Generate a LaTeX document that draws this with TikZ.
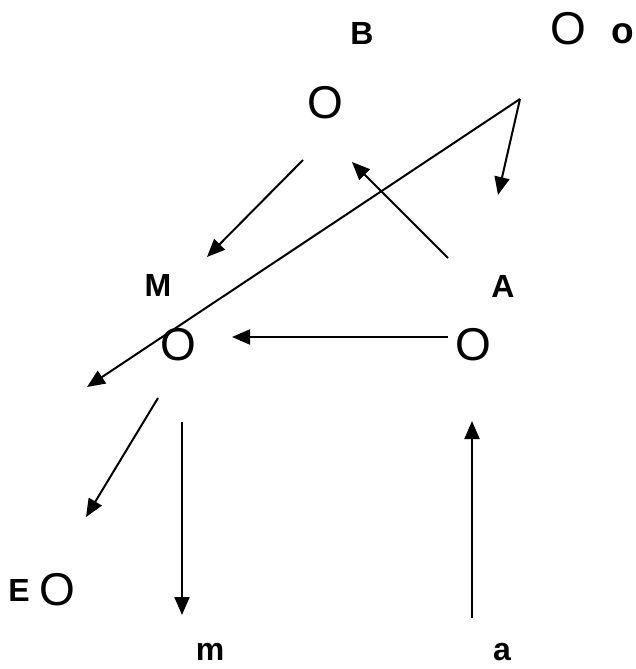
\documentclass[tikz,border=0pt]{standalone}
\usepackage{fontspec}
\setmainfont{Liberation Sans}
\usetikzlibrary{arrows.meta}
\begin{document}
\begin{tikzpicture}[x=1pt,y=-1pt,
  lbl/.style={inner sep=0pt,font=\fontsize{32}{32}\selectfont\bfseries},
  big/.style={inner sep=0pt,font=\fontsize{46}{46}\selectfont},
  arr/.style={line width=2pt,-{Triangle[length=18pt,width=15pt]}}]
\useasboundingbox[fill=white] (0,0) rectangle (635,669);
% texts
\node[lbl] (B) at (362,33) {B};
\node[big] (O1) at (568,29) {O};
\node[inner sep=0pt,font=\fontsize{37}{37}\selectfont\bfseries] (o1) at (623,34) {o};
\node[big] (O2) at (325,103) {O};
\node[lbl] (M) at (158,285) {M};
\node[lbl] (A) at (503,286) {A};
\node[big] (O3) at (178,345) {O};
\node[big] (O4) at (473,345) {O};
\node[lbl] (E) at (19,590) {E};
\node[big] (O5) at (57,590) {O};
\node[lbl] (m) at (210,652) {m};
\node[lbl] (a) at (502,652) {a};
% connector ends
\coordinate (v) at (520,99);
\coordinate (t1) at (87,387);
\coordinate (t2) at (498,195);
\coordinate (s3) at (303,160);
\coordinate (t3) at (207,257);
\coordinate (s4) at (448,258);
\coordinate (t4) at (352,162);
\coordinate (s5) at (448,337);
\coordinate (t5) at (232,337);
\coordinate (s6) at (158,398);
\coordinate (t6) at (86,517);
\coordinate (s7) at (182,422);
\coordinate (t7) at (182,615);
\coordinate (s8) at (472,618);
\coordinate (t8) at (472,421);
% arrows
\draw[arr] (v) -- (t1);
\draw[arr] (v) -- (t2);
\draw[arr] (s3) -- (t3);
\draw[arr] (s4) -- (t4);
\draw[arr] (s5) -- (t5);
\draw[arr] (s6) -- (t6);
\draw[arr] (s7) -- (t7);
\draw[arr] (s8) -- (t8);
\end{tikzpicture}
\end{document}
